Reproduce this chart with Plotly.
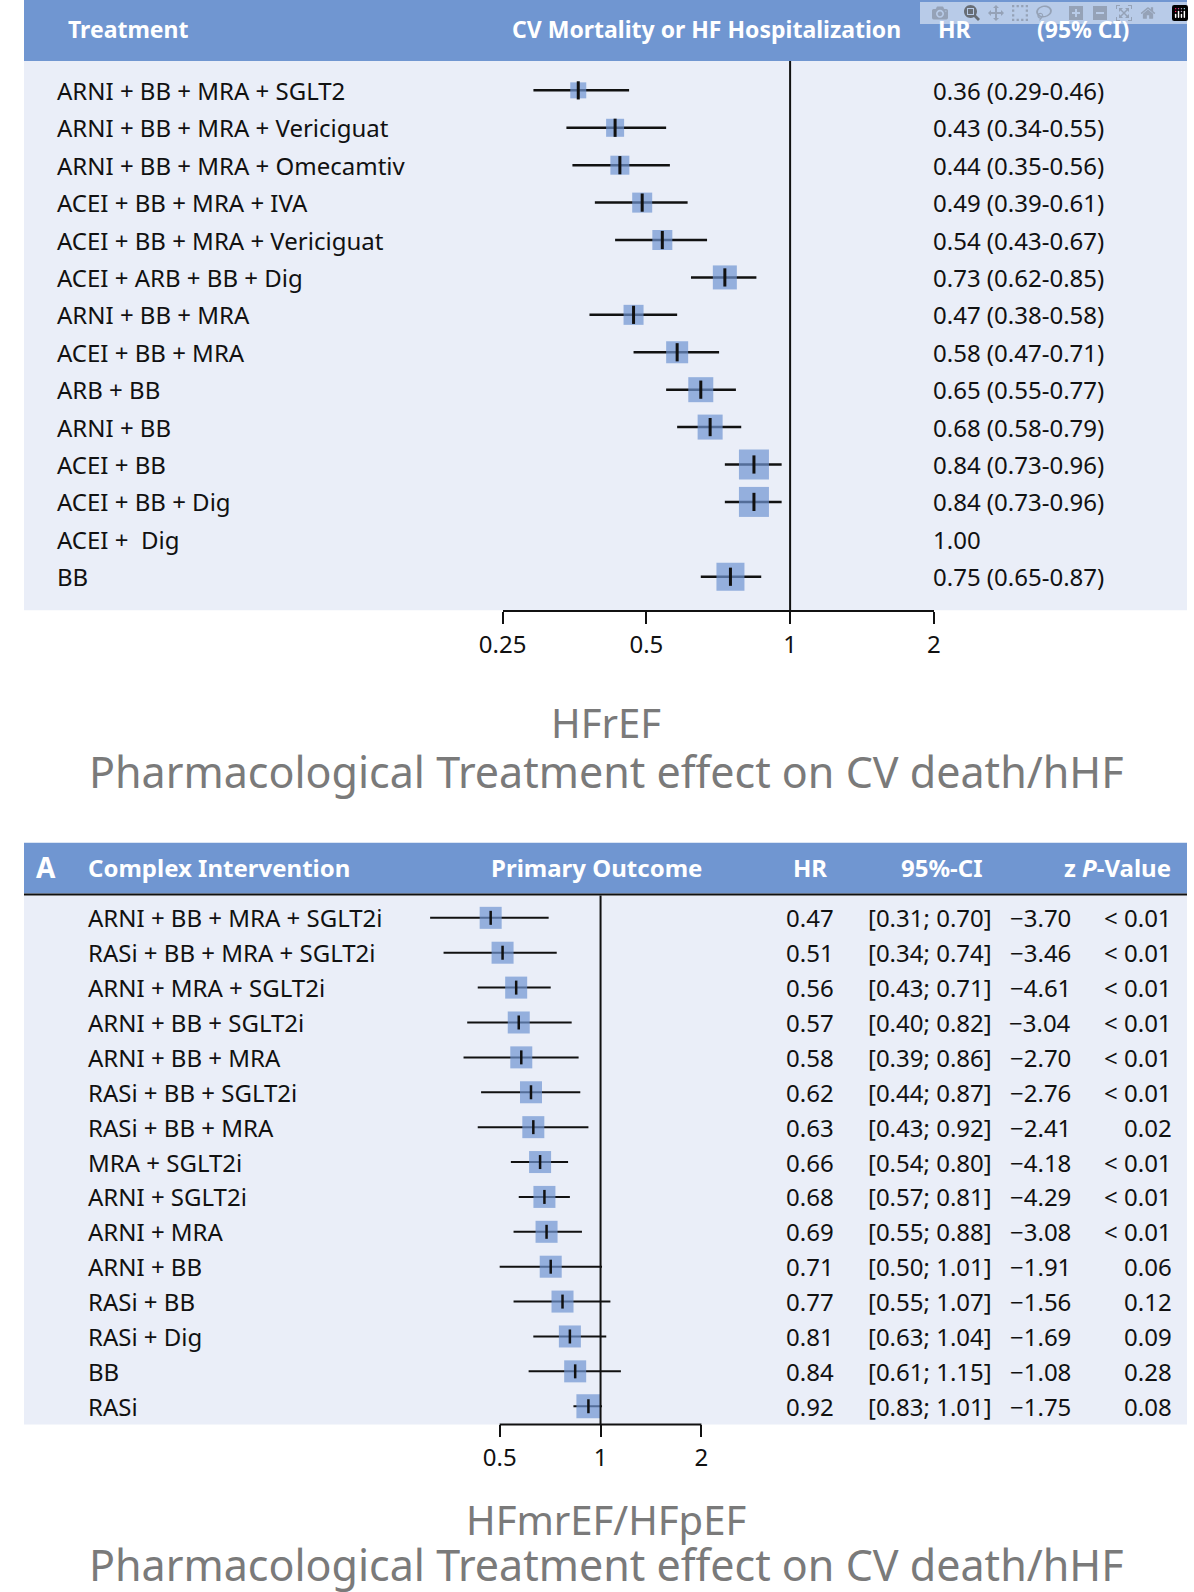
import numpy as np
import plotly.graph_objects as go

# ---- top panel (HFrEF) ----
top_labels = ["ARNI + BB + MRA + SGLT2", "ARNI + BB + MRA + Vericiguat", "ARNI + BB + MRA + Omecamtiv",
              "ACEI + BB + MRA + IVA", "ACEI + BB + MRA + Vericiguat", "ACEI + ARB + BB + Dig",
              "ARNI + BB + MRA", "ACEI + BB + MRA", "ARB + BB", "ARNI + BB", "ACEI + BB",
              "ACEI + BB + Dig", "ACEI +  Dig", "BB"]
top_hr = [0.36, 0.43, 0.44, 0.49, 0.54, 0.73, 0.47, 0.58, 0.65, 0.68, 0.84, 0.84, 1.00, 0.75]
top_lo = [0.29, 0.34, 0.35, 0.39, 0.43, 0.62, 0.38, 0.47, 0.55, 0.58, 0.73, 0.73, None, 0.65]
top_hi = [0.46, 0.55, 0.56, 0.61, 0.67, 0.85, 0.58, 0.71, 0.77, 0.79, 0.96, 0.96, None, 0.87]
top_size = [16, 18, 19, 20, 20, 24, 20, 22, 25, 25, 30, 30, 0, 28]

# ---- bottom panel (HFmrEF/HFpEF) ----
bot_labels = ["ARNI + BB + MRA + SGLT2i", "RASi + BB + MRA + SGLT2i", "ARNI + MRA + SGLT2i",
              "ARNI + BB + SGLT2i", "ARNI + BB + MRA", "RASi + BB + SGLT2i", "RASi + BB + MRA",
              "MRA + SGLT2i", "ARNI + SGLT2i", "ARNI + MRA", "ARNI + BB", "RASi + BB",
              "RASi + Dig", "BB", "RASi"]
bot_hr = [0.47, 0.51, 0.56, 0.57, 0.58, 0.62, 0.63, 0.66, 0.68, 0.69, 0.71, 0.77, 0.81, 0.84, 0.92]
bot_lo = [0.31, 0.34, 0.43, 0.40, 0.39, 0.44, 0.43, 0.54, 0.57, 0.55, 0.50, 0.55, 0.63, 0.61, 0.83]
bot_hi = [0.70, 0.74, 0.71, 0.82, 0.86, 0.87, 0.92, 0.80, 0.81, 0.88, 1.01, 1.07, 1.04, 1.15, 1.01]
bot_z = ["−3.70", "−3.46", "−4.61", "−3.04", "−2.70", "−2.76", "−2.41", "−4.18", "−4.29",
         "−3.08", "−1.91", "−1.56", "−1.69", "−1.08", "−1.75"]
bot_p = ["< 0.01"] * 6 + ["0.02"] + ["< 0.01"] * 3 + ["0.06", "0.12", "0.09", "0.28", "0.08"]
bot_size = [22, 22, 22, 22, 22, 22, 22, 22, 22, 22, 22, 22, 22, 22, 24]

W, H = 1176.0, 1568.0
def px(x): return x / W
def py(y): return 1 - y / H

HEAD = "#7096d1"
BG = "#eaeef8"
SQ = "#6f94d2"
FONT = "Noto Sans"
TXT = "#111111"

fig = go.Figure()

# top traces
n1 = len(top_labels)
rows1 = list(range(n1))
idx = [i for i in rows1 if top_lo[i] is not None]
fig.add_trace(go.Scatter(
    x=[top_hr[i] for i in idx], y=idx, mode="markers",
    marker=dict(symbol="square", size=[top_size[i] for i in idx], color=SQ, line=dict(width=0)),
    error_x=dict(type="data", symmetric=False,
                 array=[top_hi[i] - top_hr[i] for i in idx],
                 arrayminus=[top_hr[i] - top_lo[i] for i in idx],
                 thickness=2.5, width=0, color="#111"),
    xaxis="x", yaxis="y", hoverinfo="skip", cliponaxis=False))
fig.add_trace(go.Scatter(
    x=[top_hr[i] for i in idx], y=idx, mode="markers",
    marker=dict(symbol="line-ns", size=13, line=dict(width=3, color="#111")),
    xaxis="x", yaxis="y", hoverinfo="skip", cliponaxis=False))

# bottom traces
n2 = len(bot_labels)
rows2 = list(range(n2))
fig.add_trace(go.Scatter(
    x=bot_hr, y=rows2, mode="markers",
    marker=dict(symbol="square", size=bot_size, color=SQ, line=dict(width=0)),
    error_x=dict(type="data", symmetric=False,
                 array=[h - m for h, m in zip(bot_hi, bot_hr)],
                 arrayminus=[m - l for m, l in zip(bot_hr, bot_lo)],
                 thickness=2, width=0, color="#111"),
    xaxis="x2", yaxis="y2", hoverinfo="skip", cliponaxis=False))
fig.add_trace(go.Scatter(
    x=bot_hr, y=rows2, mode="markers",
    marker=dict(symbol="line-ns", size=10, line=dict(width=2.5, color="#111")),
    xaxis="x2", yaxis="y2", hoverinfo="skip", cliponaxis=False))

shapes = [
    dict(type="rect", xref="paper", yref="paper", x0=0, x1=1, y0=py(60), y1=1, fillcolor=HEAD, line_width=0, layer="below"),
    dict(type="rect", xref="paper", yref="paper", x0=0, x1=1, y0=py(601), y1=py(60), fillcolor=BG, line_width=0, layer="below"),
    dict(type="line", xref="x", yref="paper", x0=1, x1=1, y0=py(601), y1=py(60), line=dict(color="#111", width=2)),
    dict(type="rect", xref="paper", yref="paper", x0=0, x1=1, y0=py(880), y1=py(830), fillcolor=HEAD, line_width=0, layer="below"),
    dict(type="line", xref="paper", yref="paper", x0=0, x1=1, y0=py(881), y1=py(881), line=dict(color="#111", width=2)),
    dict(type="rect", xref="paper", yref="paper", x0=0, x1=1, y0=py(1403), y1=py(882), fillcolor=BG, line_width=0, layer="below"),
    dict(type="line", xref="x2", yref="paper", x0=1, x1=1, y0=py(1403), y1=py(882), line=dict(color="#111", width=2)),
    dict(type="line", xref="x2", yref="paper", x0=0.5, x1=2, y0=py(1403), y1=py(1403), line=dict(color="#111", width=2)),
]

ann = []
def t(x, y, s, size=24, anchor="left", color=TXT, yref="paper"):
    ann.append(dict(x=x, y=y, xref="paper", yref=yref, text=s, showarrow=False,
                    xanchor=anchor, yanchor="middle", font=dict(family=FONT, size=size, color=color)))

# headers
for x, s, a in [(42, "Treatment", "left"), (491, "CV Mortality or HF Hospitalization", "left"),
                (922, "HR", "left"), (1022, "(95% CI)", "left")]:
    t(px(x), py(29), "<b>%s</b>" % s, size=23, anchor=a, color="white")
for x, s, a, sz in [(10, "A", "left", 28), (63, "Complex Intervention", "left", 24),
                    (470, "Primary Outcome", "left", 24), (776, "HR", "left", 24),
                    (885, "95%-CI", "left", 24), (1162, "z <i>P</i>-Value", "right", 24)]:
    t(px(x), py(854), "<b>%s</b>" % s, size=sz, anchor=a, color="white")

for i in rows1:
    t(px(31), i, top_labels[i], yref="y")
    s = "%.2f" % top_hr[i] if top_lo[i] is None else "%.2f (%.2f-%.2f)" % (top_hr[i], top_lo[i], top_hi[i])
    t(px(917), i, s, yref="y")
for i in rows2:
    t(px(63), i, bot_labels[i], yref="y2")
    t(px(821), i, "%.2f" % bot_hr[i], anchor="right", yref="y2")
    t(px(981), i, "[%.2f; %.2f]" % (bot_lo[i], bot_hi[i]), anchor="right", yref="y2")
    t(px(1061), i, bot_z[i], anchor="right", yref="y2")
    t(px(1163), i, bot_p[i], anchor="right", yref="y2")

t(0.5, py(712), "HFrEF", size=40, anchor="center", color="#7a7a7a")
t(0.5, py(760), "Pharmacological Treatment effect on CV death/hHF", size=43, anchor="center", color="#7a7a7a")
t(0.5, py(1497), "HFmrEF/HFpEF", size=40, anchor="center", color="#7a7a7a")
t(0.5, py(1541), "Pharmacological Treatment effect on CV death/hHF", size=43, anchor="center", color="#7a7a7a")

# y ranges: row i at pixel y0 + step*i
def yrange(top, bottom, first, step):
    return [(bottom - first) / step, (top - first) / step]

tick = dict(family=FONT, size=24, color=TXT)
# bottom axis wide range so CI lines are not clipped
b_left, b_right = 400, 700
b_lo = np.log10(0.5) + (b_left - 481) / 102 * np.log10(2)
b_hi = np.log10(0.5) + (b_right - 481) / 102 * np.log10(2)

fig.update_layout(
    width=1194, height=1592, margin=dict(l=0, r=0, t=0, b=0),
    paper_bgcolor="white", plot_bgcolor="rgba(0,0,0,0)", showlegend=False,
    shapes=shapes, annotations=ann,
    xaxis=dict(domain=[px(484), px(920)], type="log", range=[np.log10(0.25), np.log10(2)],
               tickvals=[0.25, 0.5, 1, 2], ticktext=["0.25", "0.5", "1", "2"],
               showline=True, linecolor="#111", linewidth=2, ticks="outside", ticklen=12,
               tickwidth=2, tickcolor="#111", showgrid=False, zeroline=False, tickfont=tick,
               anchor="y"),
    yaxis=dict(domain=[py(601), py(60)], range=yrange(60, 601, 89, 36.85),
               visible=False, showgrid=False),
    xaxis2=dict(domain=[px(b_left), px(b_right)], type="log", range=[b_lo, b_hi],
                tickvals=[0.5, 1, 2], ticktext=["0.5", "1", "2"], showline=False,
                ticks="outside", ticklen=12, tickwidth=2, tickcolor="#111",
                showgrid=False, zeroline=False, tickfont=tick, anchor="y2"),
    yaxis2=dict(domain=[py(1403), py(882)], range=yrange(882, 1403, 904, 34.36),
                visible=False, showgrid=False),
)

fig.write_html("out.html",
               post_script="document.body.style.margin='0';document.body.style.overflow='hidden';")
